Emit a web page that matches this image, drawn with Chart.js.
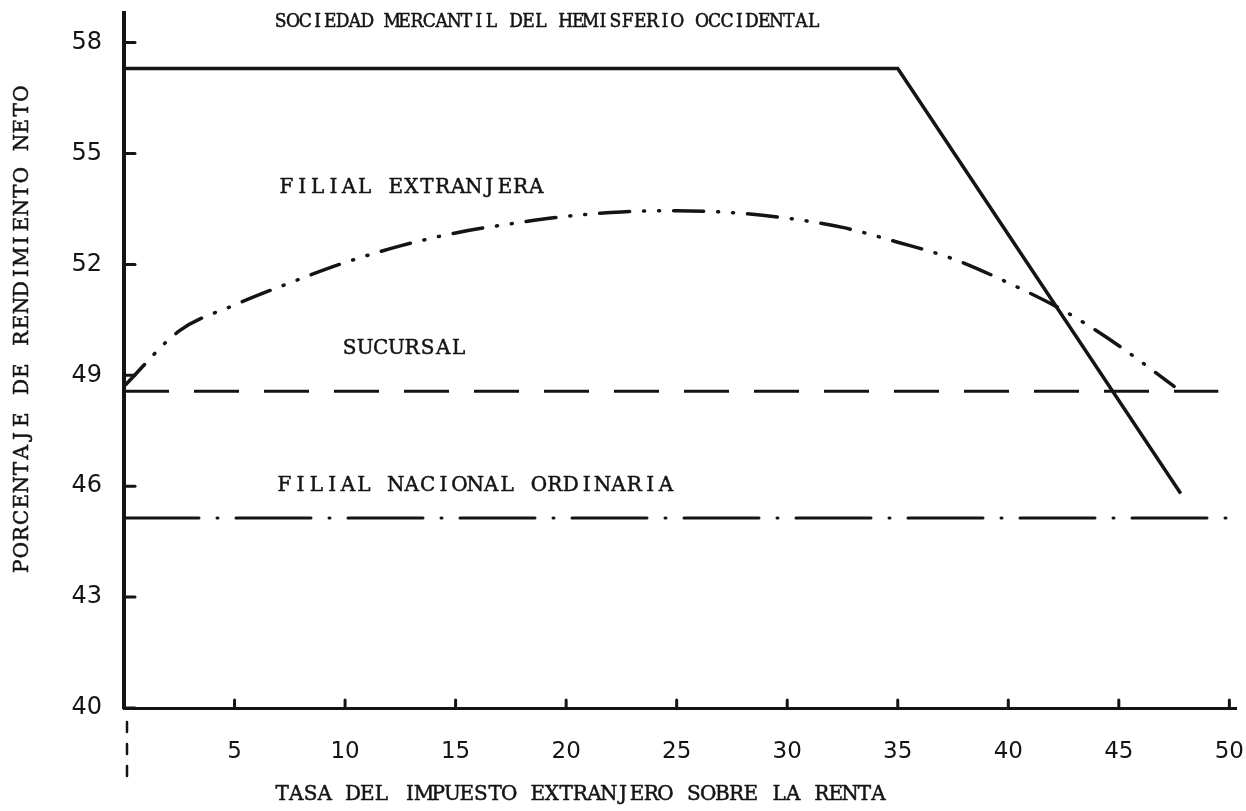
<!DOCTYPE html>
<html>
<head>
<meta charset="utf-8">
<script src="https://cdn.jsdelivr.net/npm/chart.js@4.4.1/dist/chart.umd.min.js"></script>
<style>
  html, body { margin: 0; padding: 0; background: #fff; }
  #wrap { width: 1246px; height: 811px; }
</style>
</head>
<body>
<div id="wrap"><canvas id="chart"></canvas></div>
<script>
// tasa del impuesto (x) y rendimiento neto (y)
const tasasCurva = [0, 2.5, 5, 7.5, 10, 12.5, 15, 17.5, 20, 22.5, 25, 27.5, 30, 32.5, 35, 37.5, 40, 42.5, 45, 47.5];
const filialExtranjera = [48.7, 50.2, 50.9, 51.5, 52.05, 52.5, 52.85, 53.1, 53.3, 53.42, 53.45, 53.4, 53.25, 53.0, 52.6, 52.15, 51.5, 50.75, 49.8, 48.7];

const sociedadX = [0, 35, 47.8];
const sociedadY = [57.3, 57.3, 45.8];

const sucursalX = [0, 49.5];
const sucursalY = [48.57, 48.57];

const nacionalX = [0, 50.3];
const nacionalY = [45.14, 45.14];

const xTicks = [5, 10, 15, 20, 25, 30, 35, 40, 45, 50];
const yTicks = [40, 43, 46, 49, 52, 55, 58];

// etiquetas dentro del gráfico: [texto, x, y, paso de la máquina]
const etiquetas = [
  ["SOCIEDAD MERCANTIL DEL HEMISFERIO OCCIDENTAL", 6.8, 58.56, 12.4],
  ["FILIAL EXTRANJERA", 7.0, 54.07, 15.6],
  ["SUCURSAL", 9.85, 49.71, 15.6],
  ["FILIAL NACIONAL ORDINARIA", 6.9, 46.0, 15.9]
];
const tituloX = "TASA DEL IMPUESTO EXTRANJERO SOBRE LA RENTA";
const tituloY = "PORCENTAJE DE RENDIMIENTO NETO";

const tinta = "#141414";
const maquina = '20px "DejaVu Serif", serif';
const maquinaChica = '19px "DejaVu Serif Condensed", "DejaVu Serif", serif';

function puntos(xs, ys) {
  return xs.map((x, i) => ({ x: x, y: ys[i] }));
}

// cada letra en su casilla, como una máquina de escribir
function escribir(ctx, texto, x, y, paso) {
  for (let i = 0; i < texto.length; i++) {
    const cx = x + paso * (i + 0.5);
    ctx.fillText(texto[i], cx, y);
    ctx.strokeText(texto[i], cx, y);
  }
}

const dibujoExtra = {
  id: 'dibujoExtra',
  afterDraw(chart) {
    const ctx = chart.ctx;
    const sx = chart.scales.x;
    const sy = chart.scales.y;
    const area = chart.chartArea;
    ctx.save();
    ctx.strokeStyle = tinta;
    ctx.fillStyle = tinta;
    ctx.lineCap = 'round';

    // marcas cortas hacia dentro
    ctx.lineWidth = 3;
    yTicks.forEach(v => {
      const py = sy.getPixelForValue(v);
      ctx.beginPath();
      ctx.moveTo(area.left, py);
      ctx.lineTo(area.left + 11, py);
      ctx.stroke();
    });
    xTicks.forEach(v => {
      const px = sx.getPixelForValue(v);
      ctx.beginPath();
      ctx.moveTo(px, area.bottom);
      ctx.lineTo(px, area.bottom - 8);
      ctx.stroke();
    });

    // trazo discontinuo bajo el origen
    const x0 = sx.getPixelForValue(0) + 3;
    ctx.setLineDash([10, 12]);
    ctx.lineWidth = 2.5;
    ctx.beginPath();
    ctx.moveTo(x0, area.bottom + 14);
    ctx.lineTo(x0, area.bottom + 72);
    ctx.stroke();
    ctx.setLineDash([]);

    // textos a máquina
    ctx.lineWidth = 0.5;
    ctx.lineJoin = 'round';
    ctx.textAlign = 'center';
    ctx.textBaseline = 'middle';
    etiquetas.forEach((e, i) => {
      ctx.font = i === 0 ? maquinaChica : maquina;
      escribir(ctx, e[0], sx.getPixelForValue(e[1]), sy.getPixelForValue(e[2]), e[3]);
    });

    ctx.font = maquina;
    escribir(ctx, tituloX, 275, 795, 14.2);

    ctx.translate(23, 330);
    ctx.rotate(-Math.PI / 2);
    escribir(ctx, tituloY, -tituloY.length * 16.3 / 2, 0, 16.3);
    ctx.restore();
  }
};

new Chart(document.getElementById("chart"), {
  type: 'line',
  data: {
    datasets: [
      {
        label: 'Sociedad mercantil del hemisferio occidental',
        data: puntos(sociedadX, sociedadY),
        borderColor: tinta,
        borderWidth: 3.5,
        tension: 0
      },
      {
        label: 'Filial extranjera',
        data: puntos(tasasCurva, filialExtranjera),
        borderColor: tinta,
        borderWidth: 3.5,
        borderDash: [30, 14, 1, 14, 1, 14],
        borderCapStyle: 'round',
        cubicInterpolationMode: 'monotone'
      },
      {
        label: 'Sucursal',
        data: puntos(sucursalX, sucursalY),
        borderColor: tinta,
        borderWidth: 3,
        borderDash: [45, 25]
      },
      {
        label: 'Filial nacional ordinaria',
        data: puntos(nacionalX, nacionalY),
        borderColor: tinta,
        borderWidth: 3,
        borderDash: [75, 18, 1, 18],
        borderCapStyle: 'round'
      }
    ]
  },
  options: {
    responsive: true,
    maintainAspectRatio: false,
    animation: false,
    events: [],
    layout: { padding: { top: 13, right: 10, left: 0, bottom: 0 } },
    elements: { point: { radius: 0 }, line: { fill: false } },
    plugins: {
      legend: { display: false },
      tooltip: { enabled: false }
    },
    scales: {
      x: {
        type: 'linear',
        min: 0,
        max: 50.3,
        afterBuildTicks: s => { s.ticks = xTicks.map(v => ({ value: v })); },
        afterFit: s => { s.height = 103; s.paddingLeft = 0; s.paddingRight = 0; },
        grid: { display: false, drawTicks: false },
        border: { display: true, color: tinta, width: 3 },
        ticks: {
          color: tinta,
          font: { family: '"DejaVu Sans"', size: 23 },
          padding: 30,
          maxRotation: 0,
          autoSkip: false
        }
      },
      y: {
        min: 40,
        max: 58.8,
        afterBuildTicks: s => { s.ticks = yTicks.map(v => ({ value: v })); },
        afterFit: s => { s.width = 124; s.paddingTop = 0; s.paddingBottom = 0; },
        grid: { display: false, drawTicks: false },
        border: { display: true, color: tinta, width: 4 },
        ticks: {
          color: tinta,
          font: { family: '"DejaVu Sans"', size: 24 },
          padding: 22
        }
      }
    }
  },
  plugins: [dibujoExtra]
});
</script>
</body>
</html>
